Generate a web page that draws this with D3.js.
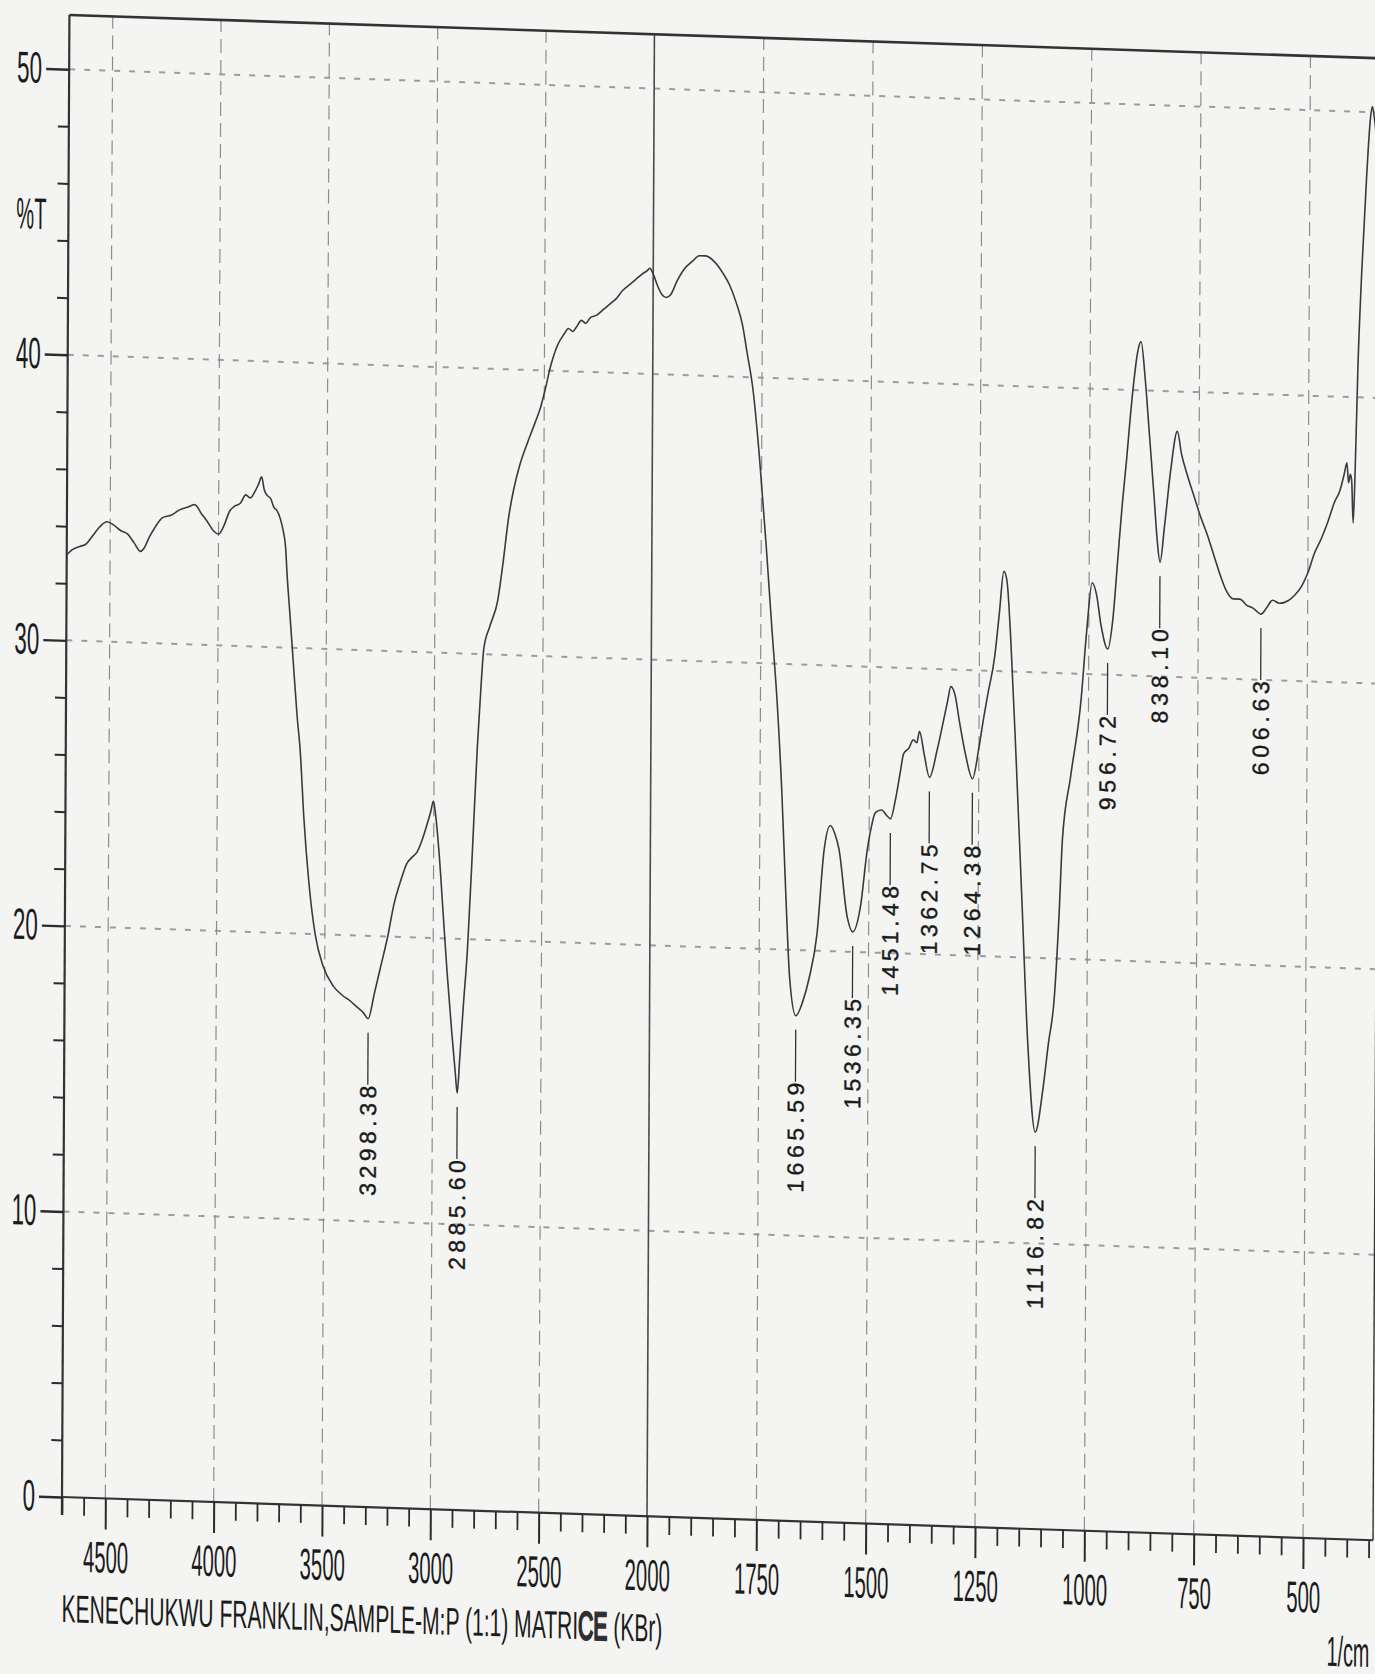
<!DOCTYPE html>
<html>
<head>
<meta charset="utf-8">
<script src="https://cdn.jsdelivr.net/npm/d3@7"></script>
<style>
    body { margin: 0; background: #f4f5f3; }
    svg { display: block; }
    .axis path { display: none; }
    .axis line { stroke: #2b2b2b; }
    .axis text { font-family: "Liberation Sans", Arial, sans-serif; fill: #1c1c1c; }
</style>
</head>
<body>
<div id="chart"></div>
<script>
// IR spectrum, wavenumber (1/cm) vs %T
const wavenumbers = [
    4700, 4670, 4640, 4610, 4580, 4550, 4515, 4485, 4450, 4420, 4390, 4360, 4345, 4320, 4290, 4260,
    4220, 4180, 4145, 4110, 4080, 4050, 4023, 4000, 3975, 3950, 3925, 3900, 3875, 3855, 3835, 3816,
    3802, 3790, 3775, 3760, 3745, 3732, 3715, 3702, 3690, 3683, 3670, 3656, 3633, 3618, 3600, 3575,
    3545, 3508, 3460, 3420, 3381, 3351, 3320, 3298.38, 3270, 3243, 3210, 3183, 3150, 3122, 3100, 3076,
    3050, 3030, 3015, 3002, 2990, 2975, 2954, 2935, 2912, 2895, 2885.60, 2875, 2860, 2842, 2820, 2801,
    2785, 2773, 2745, 2710, 2690, 2660, 2639, 2610, 2574, 2540, 2517, 2500, 2470, 2440, 2410, 2390,
    2370, 2350, 2330, 2310, 2290, 2260, 2230, 2200, 2170, 2140, 2110, 2080, 2050, 2030, 2015, 2000,
    1990, 1980, 1970, 1960, 1945, 1930, 1910, 1895, 1880, 1860, 1840, 1825, 1810, 1795, 1785, 1770,
    1755, 1739, 1725, 1712, 1700, 1690, 1680, 1665.59, 1650, 1636, 1618, 1603, 1589, 1578, 1569, 1549,
    1536.35, 1519, 1504, 1495, 1486, 1472, 1459, 1451.48, 1440, 1430, 1422, 1410, 1400, 1392, 1386, 1375,
    1362.75, 1345, 1330, 1322, 1315, 1305, 1295, 1280, 1264.38, 1250, 1240, 1230, 1215, 1205, 1195, 1188,
    1178, 1165, 1150, 1135, 1116.82, 1100, 1088, 1075, 1065, 1058, 1040, 1017, 1005, 993, 983, 972,
    956.72, 945, 935, 925, 916, 908, 900, 892, 884, 874, 864, 852, 845, 838.10, 828, 815,
    800, 790, 775, 760, 745, 730, 715, 700, 687, 670, 655, 640, 625, 606.63, 595, 580,
    565, 545, 530, 515, 500, 485, 470, 455, 440, 428, 418, 412, 408, 404, 401, 397,
    393, 388, 380, 370, 362, 358, 353, 347, 340
];
const transmittance = [
    33.0, 33.2, 33.3, 33.4, 33.7, 34.0, 34.2, 34.1, 33.9, 33.8, 33.5, 33.2, 33.3, 33.7, 34.1, 34.4,
    34.5, 34.7, 34.8, 34.9, 34.6, 34.3, 34.0, 33.9, 34.2, 34.7, 34.9, 35.0, 35.3, 35.2, 35.4, 35.7,
    35.95, 35.5, 35.3, 35.2, 34.9, 34.8, 34.5, 34.1, 33.5, 32.6, 31.3, 29.9, 27.6, 26.4, 24.1, 21.8,
    20.0, 18.9, 18.2, 17.9, 17.7, 17.5, 17.3, 17.1, 18.0, 18.9, 20.0, 21.1, 22.0, 22.6, 22.8, 23.0,
    23.5, 24.0, 24.4, 24.8, 24.2, 23.0, 20.8, 18.8, 16.7, 15.3, 14.6, 15.8, 17.6, 19.6, 23.3, 26.7,
    28.9, 30.2, 31.0, 31.9, 33.0, 34.9, 35.8, 36.7, 37.5, 38.2, 38.7, 39.2, 40.2, 40.9, 41.3, 41.5,
    41.4, 41.6, 41.8, 41.7, 41.9, 42.0, 42.2, 42.4, 42.6, 42.9, 43.1, 43.3, 43.5, 43.6, 43.7, 43.5,
    43.1, 42.8, 42.7, 42.8, 43.3, 43.7, 44.0, 44.2, 44.2, 44.0, 43.6, 43.2, 42.6, 41.8, 40.9, 39.5,
    37.2, 34.2, 31.3, 28.7, 25.5, 22.0, 19.0, 17.7, 18.2, 19.0, 20.6, 23.5, 24.4, 24.1, 23.6, 21.2,
    20.7, 21.6, 23.6, 24.4, 24.9, 25.0, 24.8, 24.7, 25.4, 26.3, 27.0, 27.2, 27.5, 27.4, 27.8, 27.0,
    26.2, 27.2, 28.3, 28.9, 29.4, 29.1, 28.2, 27.0, 26.2, 27.3, 28.3, 29.2, 30.5, 32.0, 33.5, 33.2,
    31.0, 27.0, 22.0, 17.0, 13.9, 15.4, 17.0, 18.6, 21.5, 24.2, 26.4, 29.1, 31.5, 33.2, 32.8, 31.7,
    30.9, 32.0, 34.0, 36.0, 37.5, 39.0, 40.3, 41.3, 41.7, 40.4, 38.5, 36.2, 34.8, 34.0, 35.3, 37.2,
    38.6, 37.8, 37.0, 36.3, 35.6, 35.0, 34.3, 33.6, 33.1, 32.8, 32.8, 32.6, 32.5, 32.3, 32.5, 32.8,
    32.7, 32.8, 33.0, 33.3, 33.8, 34.5, 35.0, 35.6, 36.3, 36.7, 37.3, 37.7, 37.0, 37.3, 37.1, 35.6,
    37.5, 41.0, 44.5, 47.8, 49.8, 50.2, 49.8, 49.0, 48.5
];

// labelled minima
const peakWavenumbers = [3298.38, 2885.60, 1665.59, 1536.35, 1451.48, 1362.75, 1264.38, 1116.82, 956.72, 838.10, 606.63];
const peakLabels = ['3298.38', '2885.60', '1665.59', '1536.35', '1451.48', '1362.75', '1264.38', '1116.82', '956.72', '838.10', '606.63'];

const xMajorTicks = [4500, 4000, 3500, 3000, 2500, 2000, 1750, 1500, 1250, 1000, 750, 500];
const yMajorTicks = [0, 10, 20, 30, 40, 50];
const yGridValues = [10, 20, 30, 40, 50];

const captionText = 'KENECHUKWU FRANKLIN,SAMPLE-M:P (1:1) MATRI';
const captionMark = 'CE';
const captionTail = ' (KBr)';

const W = 1375, H = 1674;

// x axis is split at 2000 (expanded scale below 2000)
const x = d3.scaleLinear().domain([4700, 2000, 340]).range([62, 647, 1373]);
const y = d3.scaleLinear().domain([0, 51.9]).range([1497, 15]);

const xMinorTicks = d3.range(4700, 2000, -100).concat(d3.range(1950, 340, -50))
    .filter(d => !xMajorTicks.includes(d));
const yMinorTicks = d3.range(2, 50, 2).filter(d => d % 10 !== 0);

const svg = d3.select('#chart').append('svg')
    .attr('width', W)
    .attr('height', H);

// the scanned sheet is slightly skewed
const page = svg.append('g')
    .attr('transform', 'matrix(1,0.033,-0.005,1,7.5,-2.05)');

// dashed horizontal grid
page.append('g')
    .selectAll('line')
    .data(yGridValues)
    .join('line')
    .attr('x1', x(4700))
    .attr('x2', x(340))
    .attr('y1', d => y(d))
    .attr('y2', d => y(d))
    .attr('stroke', '#9c9c9c')
    .attr('stroke-width', 2)
    .attr('stroke-dasharray', '6 9');

// dashed vertical grid, solid at 2000
page.append('g')
    .selectAll('line')
    .data(xMajorTicks)
    .join('line')
    .attr('x1', d => x(d))
    .attr('x2', d => x(d))
    .attr('y1', y(0))
    .attr('y2', y(51.9))
    .attr('stroke', d => d === 2000 ? '#4a4a4a' : '#8c8c8c')
    .attr('stroke-width', d => d === 2000 ? 1.6 : 1.2)
    .attr('stroke-dasharray', d => d === 2000 ? null : '14 7');

// frame
const frame = page.append('g').attr('stroke', '#333').attr('fill', 'none');
frame.append('line')
    .attr('x1', x(4700)).attr('x2', x(340))
    .attr('y1', y(51.9)).attr('y2', y(51.9))
    .attr('stroke-width', 2.6);
frame.append('line')
    .attr('x1', x(340)).attr('x2', x(340))
    .attr('y1', y(51.9)).attr('y2', y(0))
    .attr('stroke-width', 1.4);
frame.append('line')
    .attr('x1', x(4700)).attr('x2', x(4700))
    .attr('y1', y(51.9)).attr('y2', y(0) + 18)
    .attr('stroke-width', 2.2);
frame.append('line')
    .attr('x1', x(4700)).attr('x2', x(340))
    .attr('y1', y(0)).attr('y2', y(0))
    .attr('stroke-width', 2.2);

// x axis
const xAxis = page.append('g')
    .attr('class', 'axis')
    .attr('transform', `translate(0,${y(0)})`)
    .call(d3.axisBottom(x).tickValues(xMajorTicks).tickSize(31).tickPadding(12).tickFormat(d3.format('d')));
xAxis.selectAll('line').attr('stroke-width', 2);
xAxis.selectAll('text')
    .attr('font-size', 44)
    .attr('textLength', d => String(d).length * 11.3)
    .attr('lengthAdjust', 'spacingAndGlyphs');

page.append('g')
    .attr('class', 'axis')
    .attr('transform', `translate(0,${y(0)})`)
    .call(d3.axisBottom(x).tickValues(xMinorTicks).tickSize(18).tickFormat(''))
    .selectAll('line').attr('stroke-width', 1.8);

// y axis
const yAxis = page.append('g')
    .attr('class', 'axis')
    .attr('transform', `translate(${x(4700)},0)`)
    .call(d3.axisLeft(y).tickValues(yMajorTicks).tickSize(23).tickPadding(4).tickFormat(d3.format('d')));
yAxis.selectAll('line').attr('stroke-width', 2.4);
yAxis.selectAll('text')
    .attr('font-size', 44)
    .attr('textLength', d => String(d).length * 12.5)
    .attr('lengthAdjust', 'spacingAndGlyphs');

page.append('g')
    .attr('class', 'axis')
    .attr('transform', `translate(${x(4700)},0)`)
    .call(d3.axisLeft(y).tickValues(yMinorTicks).tickSize(11).tickFormat(''))
    .selectAll('line').attr('stroke-width', 2);

page.append('text')
    .attr('x', 40)
    .attr('y', 230)
    .attr('text-anchor', 'end')
    .attr('font-family', '"Liberation Sans", Arial, sans-serif')
    .attr('font-size', 44)
    .attr('fill', '#1c1c1c')
    .attr('textLength', 30)
    .attr('lengthAdjust', 'spacingAndGlyphs')
    .text('%T');

// spectrum
const spectrum = d3.zip(wavenumbers, transmittance);
const line = d3.line()
    .x(d => x(d[0]))
    .y(d => y(d[1]))
    .curve(d3.curveMonotoneX);

page.append('path')
    .datum(spectrum)
    .attr('fill', 'none')
    .attr('stroke', '#3a3a3a')
    .attr('stroke-width', 1.6)
    .attr('stroke-linejoin', 'round')
    .attr('d', line);

// peak markers
const peaks = peakWavenumbers.map((wn, i) => ({
    wn: wn,
    label: peakLabels[i],
    t: transmittance[wavenumbers.indexOf(wn)]
}));

const markers = page.append('g')
    .selectAll('g')
    .data(peaks)
    .join('g');

markers.append('line')
    .attr('x1', d => x(d.wn))
    .attr('x2', d => x(d.wn))
    .attr('y1', d => y(d.t) + 14)
    .attr('y2', d => y(d.t) + 66)
    .attr('stroke', '#333')
    .attr('stroke-width', 1.3);

markers.append('text')
    .attr('transform', d => `translate(${x(d.wn)},${y(d.t) + 67}) rotate(-90)`)
    .attr('text-anchor', 'end')
    .attr('dy', '0.36em')
    .attr('font-family', '"Liberation Sans", Arial, sans-serif')
    .attr('font-size', 23)
    .attr('fill', '#1a1a1a')
    .attr('stroke', '#1a1a1a')
    .attr('stroke-width', 0.4)
    .attr('textLength', d => d.label.length * 15.7)
    .text(d => d.label);

// caption and unit
const caption = page.append('text')
    .attr('x', 62)
    .attr('y', 1622)
    .attr('font-family', '"Liberation Sans", Arial, sans-serif')
    .attr('font-size', 39)
    .attr('fill', '#1c1c1c')
    .attr('textLength', 601)
    .attr('lengthAdjust', 'spacingAndGlyphs');
caption.append('tspan').text(captionText);
caption.append('tspan')
    .attr('stroke', '#333')
    .attr('stroke-width', 2.5)
    .text(captionMark);
caption.append('tspan').text(captionTail);

page.append('text')
    .attr('x', 1370)
    .attr('y', 1624)
    .attr('text-anchor', 'end')
    .attr('font-family', '"Liberation Sans", Arial, sans-serif')
    .attr('font-size', 42)
    .attr('fill', '#1c1c1c')
    .attr('textLength', 43)
    .attr('lengthAdjust', 'spacingAndGlyphs')
    .text('1/cm');
</script>
</body>
</html>
